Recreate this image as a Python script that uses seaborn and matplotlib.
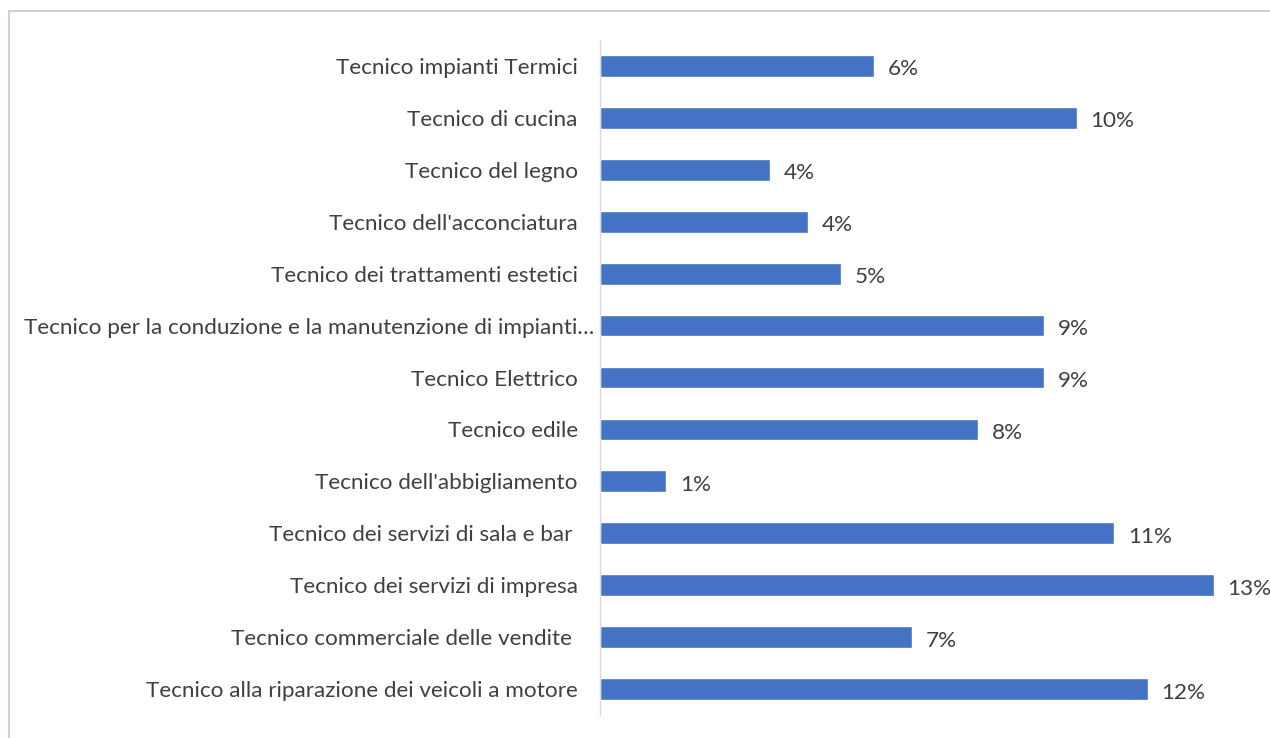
import matplotlib
matplotlib.use("Agg")
import matplotlib.pyplot as plt
import matplotlib.transforms as mtransforms
from matplotlib.lines import Line2D
import seaborn as sns
import pandas as pd

categories = [
    "Tecnico impianti Termici",
    "Tecnico di cucina",
    "Tecnico del legno",
    "Tecnico dell'acconciatura",
    "Tecnico dei trattamenti estetici",
    "Tecnico per la conduzione e la manutenzione di impianti…",
    "Tecnico Elettrico",
    "Tecnico edile",
    "Tecnico dell'abbigliamento",
    "Tecnico dei servizi di sala e bar ",
    "Tecnico dei servizi di impresa",
    "Tecnico commerciale delle vendite ",
    "Tecnico alla riparazione dei veicoli a motore",
]
shares = [0.058, 0.101, 0.036, 0.044, 0.051, 0.094, 0.094,
          0.080, 0.014, 0.109, 0.130, 0.066, 0.116]

df = pd.DataFrame({"corso": categories, "quota": shares})

sns.set_theme(style="white")
plt.rcParams["font.family"] = ["Lato", "DejaVu Sans"]

W, H = 1270, 738
fig = plt.figure(figsize=(W / 100, H / 100), dpi=100)
x0, x1 = 600, 600 + 0.14 * 4720
y_top, y_bot = 40, 715
ax = fig.add_axes([x0 / W, 1 - y_bot / H, (x1 - x0) / W, (y_bot - y_top) / H])

sns.barplot(data=df, y="corso", x="quota", color="#4472C4", width=0.42,
            saturation=1, ax=ax, orient="h")

ax.set_xlim(0, 0.14)
ax.set_ylim(len(categories) - 0.5, -0.5)
ax.set_xlabel("")
ax.set_ylabel("")
ax.set_xticks([])
for side in ["top", "right", "bottom"]:
    ax.spines[side].set_visible(False)
ax.spines["left"].set_color("#D9D9D9")
ax.spines["left"].set_linewidth(1)

fs = 16.2
ax.tick_params(axis="y", length=0, pad=16, labelsize=fs, labelcolor="#404040")
for lab in ax.get_yticklabels():
    if lab.get_text().endswith("…"):
        lab.set_transform(lab.get_transform() +
                          mtransforms.ScaledTranslation(16 / 100, 0, fig.dpi_scale_trans))

texts = ax.bar_label(ax.containers[0], labels=[f"{v:.0%}" for v in shares],
                     padding=10, fontsize=fs, color="#404040", clip_on=False)
for t in texts:
    t.xyann = (10, -2.5)

# light frame around the chart area
fig.add_artist(Line2D([9 / W, 1], [1 - 11 / H, 1 - 11 / H], transform=fig.transFigure,
                      color="#D0D0D0", linewidth=1.5))
fig.add_artist(Line2D([9 / W, 9 / W], [0, 1 - 11 / H], transform=fig.transFigure,
                      color="#D0D0D0", linewidth=1.5))

fig.savefig("out.png", dpi=100, facecolor="white")
